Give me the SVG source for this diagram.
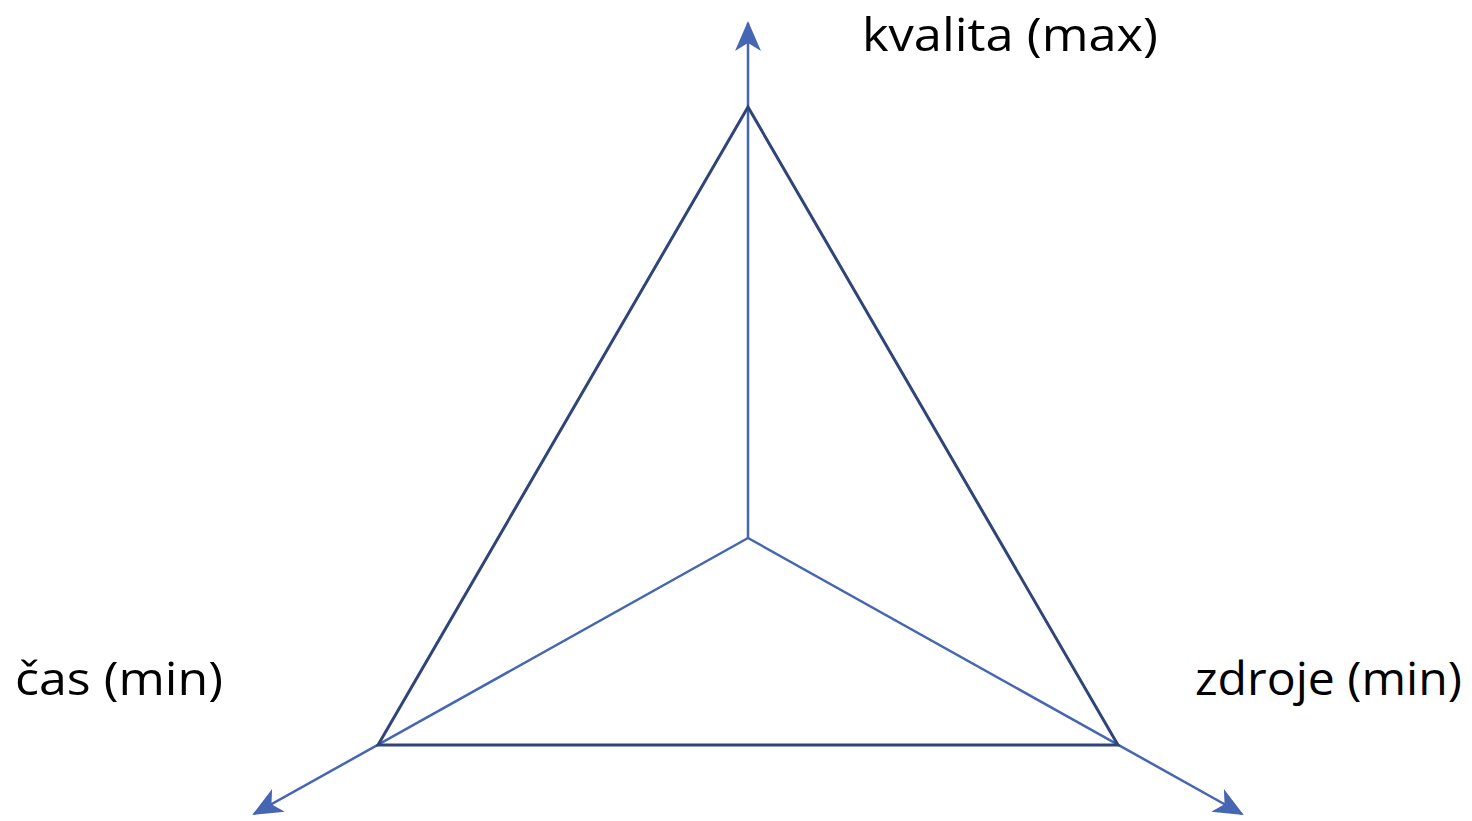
<svg xmlns="http://www.w3.org/2000/svg" width="1472" height="821" viewBox="0 0 1472 821">
<style>
.axis{stroke:#4666b4;stroke-width:2.5;fill:none}
.tri{stroke:#2f4479;stroke-width:3;fill:none;stroke-linejoin:miter}
.lbl{font-family:"Open Sans","DejaVu Sans","Liberation Sans",sans-serif;font-size:46px;fill:#000}
</style>
<defs>
<marker id="arr" viewBox="0 0 30 26" refX="28" refY="13" markerWidth="30" markerHeight="26" markerUnits="userSpaceOnUse" orient="auto">
<path d="M0,0 L30,13 L0,26 L8,13 Z" fill="#4666b4"/>
</marker>
</defs>
<rect width="1472" height="821" fill="#fff"/>
<g id="connectors">
<line class="axis" x1="748" y1="538" x2="748" y2="23" marker-end="url(#arr)"/>
<line class="axis" x1="748" y1="538" x2="254" y2="814" marker-end="url(#arr)"/>
<line class="axis" x1="748" y1="538" x2="1242" y2="814" marker-end="url(#arr)"/>
</g>
<g id="triangle">
<polygon class="tri" points="748,107 378,745 1118,745"/>
</g>
<g id="label-kvalita">
<text class="lbl" x="862" y="51" textLength="296" lengthAdjust="spacingAndGlyphs">kvalita (max)</text>
</g>
<g id="label-cas">
<text class="lbl" x="15" y="695" textLength="208" lengthAdjust="spacingAndGlyphs">čas (min)</text>
</g>
<g id="label-zdroje">
<text class="lbl" x="1195" y="695" textLength="267" lengthAdjust="spacingAndGlyphs">zdroje (min)</text>
</g>
</svg>
